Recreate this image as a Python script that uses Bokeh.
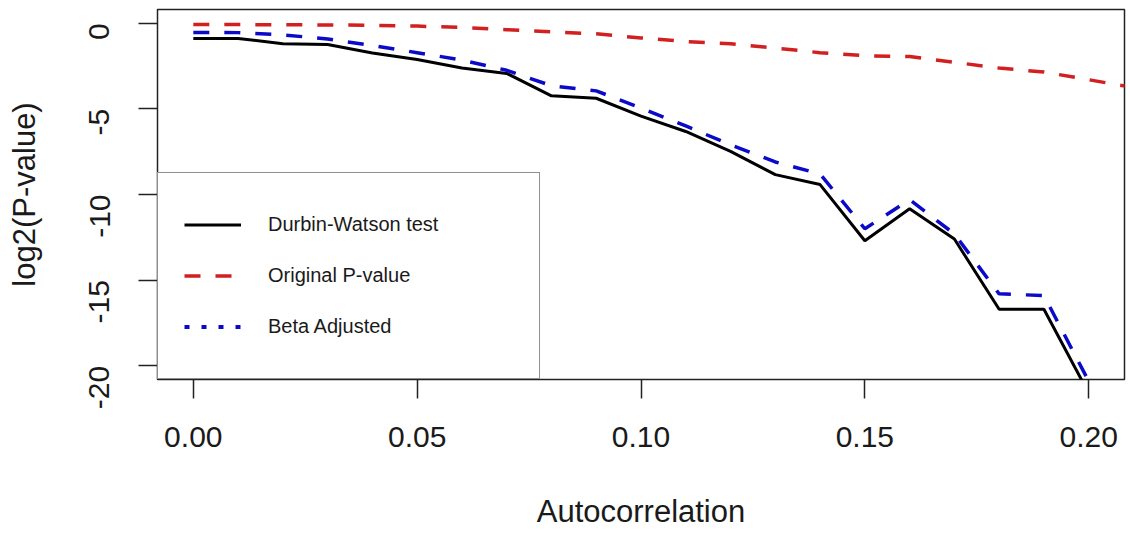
import math
from bokeh.plotting import figure
from bokeh.models import Range1d, FixedTicker, Legend, LegendItem, ColumnDataSource
from bokeh.embed import file_html
from bokeh.resources import INLINE

# ---- data ----
autocorr = [0.00, 0.01, 0.02, 0.03, 0.04, 0.05, 0.06, 0.07, 0.08, 0.09, 0.10,
            0.11, 0.12, 0.13, 0.14, 0.15, 0.16, 0.17, 0.18, 0.19, 0.20, 0.21]
durbin_watson = [-0.89, -0.89, -1.20, -1.24, -1.74, -2.12, -2.62, -2.93, -4.24, -4.38, -5.42,
                 -6.32, -7.48, -8.84, -9.42, -12.70, -10.83, -12.60, -16.70, -16.70, -21.60, -24.00]
original_p = [-0.08, -0.08, -0.09, -0.10, -0.12, -0.17, -0.25, -0.38, -0.50, -0.62, -0.86,
              -1.07, -1.20, -1.45, -1.72, -1.90, -1.95, -2.28, -2.62, -2.85, -3.30, -3.75]
beta_adjusted = [-0.54, -0.55, -0.68, -0.92, -1.30, -1.72, -2.15, -2.75, -3.65, -3.95, -4.95,
                 -6.00, -7.10, -8.10, -8.80, -12.00, -10.30, -12.30, -15.80, -15.90, -20.90, -23.00]

x_ticks = [0.00, 0.05, 0.10, 0.15, 0.20]
x_tick_labels = ["0.00", "0.05", "0.10", "0.15", "0.20"]
y_ticks = [0, -5, -10, -15, -20]
y_tick_labels = ["0", "-5", "-10", "-15", "-20"]
series_labels = ["Durbin-Watson test", "Original P-value", "Beta Adjusted"]
x_title = "Autocorrelation"
y_title = "log2(P-value)"

FONT = "Liberation Sans"
RED = "#d21f1f"
BLUE = "#0a0ac8"

source = ColumnDataSource(dict(x=autocorr, dw=durbin_watson, op=original_p, ba=beta_adjusted))
nan = float("nan")
legend_source = ColumnDataSource(dict(x=[nan], y=[nan]))

p = figure(width=1130, height=531, output_backend="svg", toolbar_location=None,
           x_range=Range1d(-0.008, 0.208), y_range=Range1d(-20.8, 0.8),
           min_border_left=157, min_border_right=6, min_border_top=9, min_border_bottom=152)

p.background_fill_color = "white"
p.border_fill_color = "white"
p.outline_line_color = "#222222"
p.outline_line_width = 1.5
p.xgrid.visible = False
p.ygrid.visible = False

r_dw = p.line("x", "dw", source=source, line_color="black", line_width=3)
r_op = p.line("x", "op", source=source, line_color=RED, line_width=3.5, line_dash="16 15")
r_ba = p.line("x", "ba", source=source, line_color=BLUE, line_width=3.5, line_dash="16 15")
# legend sample for the beta-adjusted series (dotted, as in the reference legend)
r_ba_leg = p.line("x", "y", source=legend_source, line_color=BLUE, line_width=4, line_dash="5 12")

for ax in (p.xaxis[0], p.yaxis[0]):
    ax.axis_line_color = None
    ax.major_tick_line_color = "#222222"
    ax.major_tick_line_width = 1.5
    ax.major_tick_in = 0
    ax.major_tick_out = 19
    ax.minor_tick_line_color = None
    ax.major_label_text_font = FONT
    ax.major_label_text_font_size = "30px"
    ax.major_label_text_color = "#1a1a1a"
    ax.axis_label_text_font = FONT
    ax.axis_label_text_font_style = "normal"
    ax.axis_label_text_font_size = "31px"
    ax.axis_label_text_color = "#1a1a1a"

p.xaxis[0].ticker = FixedTicker(ticks=x_ticks)
p.xaxis[0].major_label_overrides = {t: l for t, l in zip(x_ticks, x_tick_labels)}
p.xaxis[0].major_label_standoff = 28
p.xaxis[0].axis_label = x_title
p.xaxis[0].axis_label_standoff = 44

p.yaxis[0].ticker = FixedTicker(ticks=y_ticks)
p.yaxis[0].major_label_overrides = {t: l for t, l in zip(y_ticks, y_tick_labels)}
p.yaxis[0].major_label_orientation = math.pi / 2
p.yaxis[0].major_label_standoff = 39
p.yaxis[0].axis_label = y_title
p.yaxis[0].axis_label_standoff = 35

legend = Legend(items=[LegendItem(label=series_labels[0], renderers=[r_dw]),
                       LegendItem(label=series_labels[1], renderers=[r_op]),
                       LegendItem(label=series_labels[2], renderers=[r_ba_leg])],
                location=(0, 0), padding=26, spacing=0, margin=0,
                glyph_width=57, glyph_height=51, label_height=51, label_width=245,
                label_standoff=27, label_text_font=FONT, label_text_font_size="20px",
                label_text_color="#1a1a1a",
                border_line_color="#222222", border_line_width=1.5,
                background_fill_color="white", background_fill_alpha=1.0)
p.add_layout(legend, "center")

open("out.html", "w").write(file_html(p, INLINE))
